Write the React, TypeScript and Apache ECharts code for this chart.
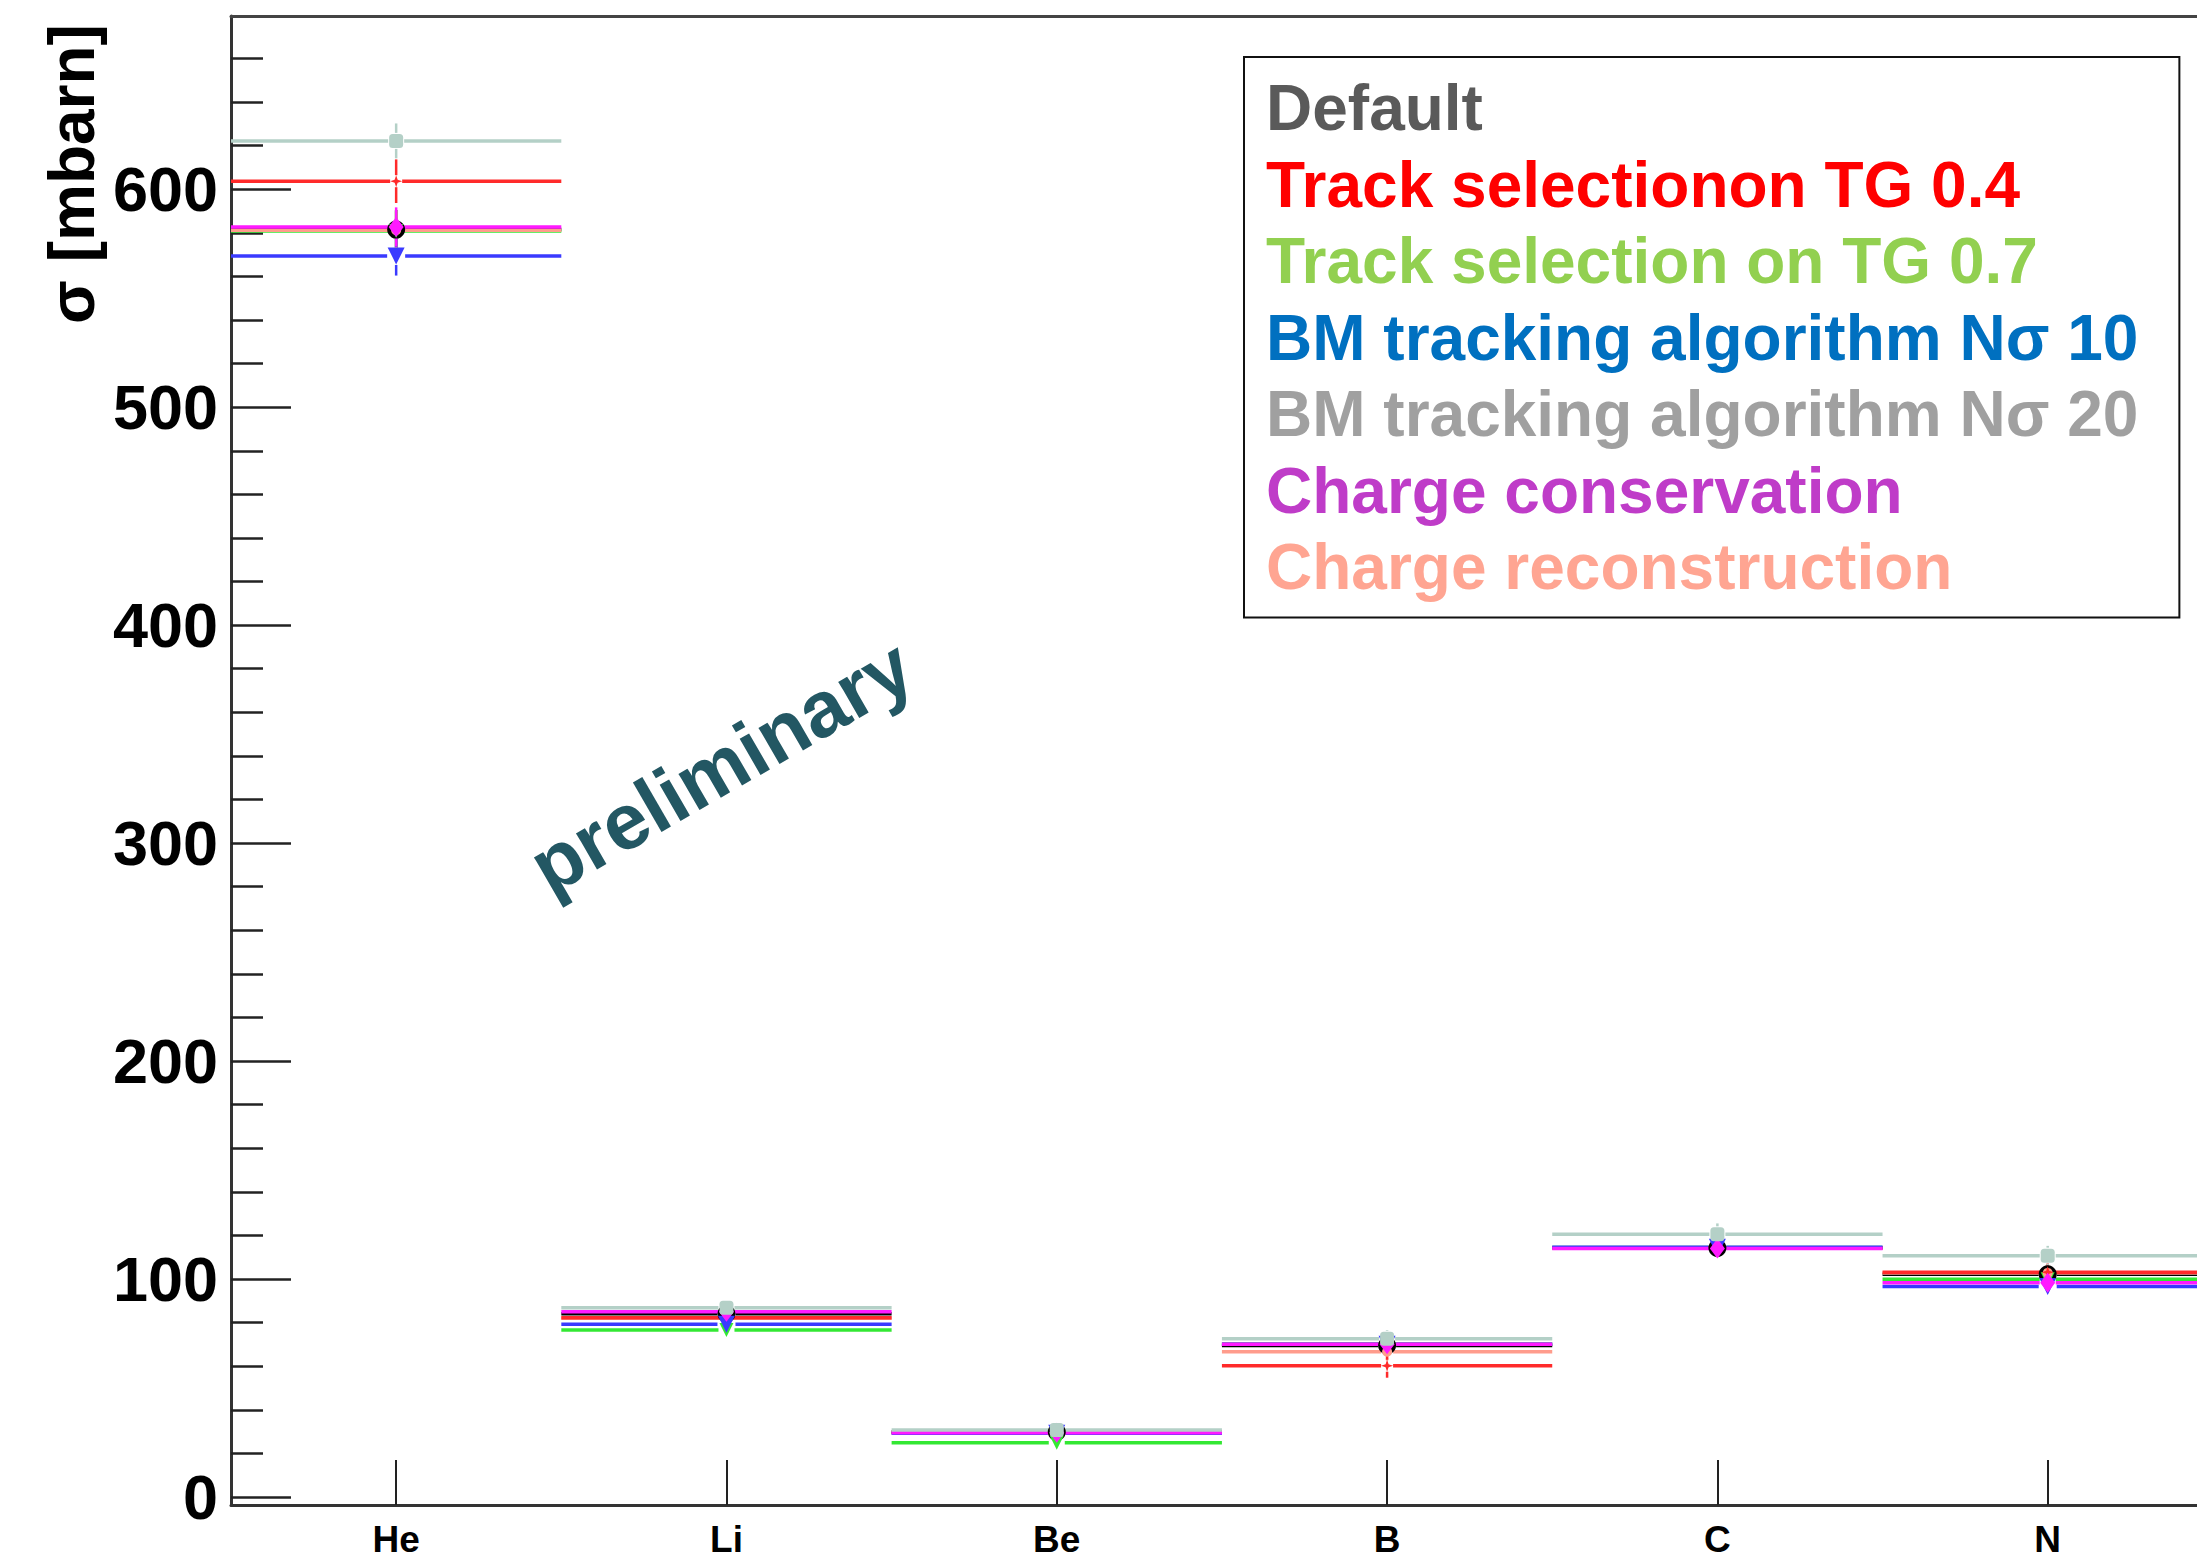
import React, { useEffect, useRef } from "react";
import * as echarts from "echarts";

// ---- data ----
const categories = ["He", "Li", "Be", "B", "C", "N"];
const yMajorTicks = [0, 100, 200, 300, 400, 500, 600];
const yMinorTicks = [
  20, 40, 60, 80, 120, 140, 160, 180, 220, 240, 260, 280, 320, 340, 360, 380,
  420, 440, 460, 480, 520, 540, 560, 580, 620, 640, 660,
];

const seriesNames = [
  "Default",
  "Track selectionon TG 0.4",
  "Track selection on TG 0.7",
  "BM tracking algorithm Nσ 10",
  "BM tracking algorithm Nσ 20",
  "Charge conservation",
  "Charge reconstruction",
];

const defaultVals = [581.5, 84.0, 29.8, 69.5, 114.2, 102.2];
const defaultErrs = [9, 3.5, 2.5, 4, 4, 4];
const tg04Vals = [603.7, 82.2, 29.6, 60.2, 114.3, 103.1];
const tg04Errs = [10, 3.5, 2.5, 5.5, 4, 4];
const tg07Vals = [580.9, 76.6, 24.9, 70.2, 114.4, 99.9];
const tg07Errs = [9, 3.5, 2.5, 4, 4, 4];
const bm10Vals = [569.4, 79.2, 29.2, 70.0, 114.6, 96.5];
const bm10Errs = [9, 3.5, 2.5, 4, 4, 4];
const bm20Vals = [622.2, 86.8, 30.7, 72.6, 120.5, 110.7];
const bm20Errs = [8, 3.5, 2.5, 4, 5, 4.5];
const chConsVals = [582.7, 85.0, 29.5, 70.0, 114.0, 98.3];
const chConsErrs = [9, 3.5, 2.5, 4, 4, 4];
const chRecoVals = [581.2, 82.0, 29.4, 66.6, 114.1, 102.8];
const chRecoErrs = [9, 3.5, 2.5, 4, 4, 4];

// ---- styles ----
const AXIS_FONT = "'Liberation Sans', Arial, Helvetica, sans-serif";
const TEXT_FONT = "'Liberation Sans', Arial, Helvetica, sans-serif";

const styleByName: Record<string, any> = {
  "Default": { line: "#000000", legend: "#5a5a5a", symbol: "circle", size: 18, rotate: 0, gap: 9 },
  "Track selectionon TG 0.4": {
    line: "#ff2a2a", legend: "#ff0000",
    symbol: "path://M0,-10L2.5,-2.5L10,0L2.5,2.5L0,10L-2.5,2.5L-10,0L-2.5,-2.5Z",
    size: 12, rotate: 0, gap: 6,
  },
  "Track selection on TG 0.7": { line: "#33e833", legend: "#92d050", symbol: "triangle", size: 14, rotate: 180, gap: 8 },
  "BM tracking algorithm Nσ 10": { line: "#3a3aff", legend: "#0070c0", symbol: "triangle", size: 17, rotate: 180, gap: 9 },
  "BM tracking algorithm Nσ 20": { line: "#b4d0c7", legend: "#a0a0a0", symbol: "roundRect", size: 14, rotate: 0, gap: 8 },
  "Charge conservation": { line: "#ff1aff", legend: "#bf3cc8", symbol: "diamond", size: [15, 20], rotate: 0, gap: 8 },
  "Charge reconstruction": { line: "#ff9c8c", legend: "#ffa592", symbol: "circle", size: 10, rotate: 0, gap: 6 },
};

const valsByName: Record<string, number[][]> = {
  "Default": [defaultVals, defaultErrs],
  "Track selectionon TG 0.4": [tg04Vals, tg04Errs],
  "Track selection on TG 0.7": [tg07Vals, tg07Errs],
  "BM tracking algorithm Nσ 10": [bm10Vals, bm10Errs],
  "BM tracking algorithm Nσ 20": [bm20Vals, bm20Errs],
  "Charge conservation": [chConsVals, chConsErrs],
  "Charge reconstruction": [chRecoVals, chRecoErrs],
};

// drawing order (last on top)
const drawOrder = [
  "Default",
  "Track selection on TG 0.7",
  "Charge reconstruction",
  "Track selectionon TG 0.4",
  "BM tracking algorithm Nσ 10",
  "Charge conservation",
  "BM tracking algorithm Nσ 20",
];

function makeRenderItem(color: string, gap: number) {
  return (params: any, api: any) => {
    const xi = api.value(0);
    const v = api.value(1);
    const e = api.value(2);
    const c = api.coord([xi, v]);
    const l = api.coord([xi - 0.5, v]);
    const r = api.coord([xi + 0.5, v]);
    const t = api.coord([xi, v + e]);
    const b = api.coord([xi, v - e]);
    const hStyle = { stroke: color, lineWidth: 3.5 };
    const vStyle = { stroke: color, lineWidth: 2.5 };
    const children: any[] = [
      { type: "line", shape: { x1: l[0], y1: c[1], x2: c[0] - gap, y2: c[1] }, style: hStyle },
      { type: "line", shape: { x1: c[0] + gap, y1: c[1], x2: r[0], y2: c[1] }, style: hStyle },
    ];
    if (t[1] < c[1] - gap) {
      children.push({ type: "line", shape: { x1: c[0], y1: t[1], x2: c[0], y2: c[1] - gap }, style: vStyle });
    }
    if (b[1] > c[1] + gap) {
      children.push({ type: "line", shape: { x1: c[0], y1: c[1] + gap, x2: c[0], y2: b[1] }, style: vStyle });
    }
    return { type: "group", children };
  };
}

export default function App() {
  const ref = useRef<HTMLDivElement>(null);

  useEffect(() => {
    if (!ref.current) return;
    const chart = echarts.init(ref.current, null, { renderer: "svg" });

    const series: any[] = [];
    drawOrder.forEach((name) => {
      const st = styleByName[name];
      const [vals, errs] = valsByName[name];
      series.push({
        name,
        type: "custom",
        xAxisIndex: 0,
        yAxisIndex: 0,
        clip: true,
        renderItem: makeRenderItem(st.line, st.gap),
        encode: { x: 0, y: 1 },
        itemStyle: { color: st.line },
        data: vals.map((v, i) => [i + 0.5, v, errs[i]]),
      });
      series.push({
        name,
        type: "scatter",
        xAxisIndex: 0,
        yAxisIndex: 0,
        symbol: st.symbol,
        symbolSize: st.size,
        symbolRotate: st.rotate,
        itemStyle: { color: st.line, opacity: 1 },
        emphasis: { disabled: true },
        data: vals.map((v, i) => [i + 0.5, v]),
      });
    });

    const xMin = 0;
    const xMax = 5.952;
    const yMin = -3.7;
    const yMax = 679.5;

    chart.setOption({
      animation: false,
      backgroundColor: "#ffffff",
      grid: { left: 231, top: 16, right: 0, bottom: 56, containLabel: false },
      xAxis: [
        {
          type: "value",
          min: xMin,
          max: xMax,
          position: "bottom",
          axisLine: { show: true, onZero: false, lineStyle: { color: "#333", width: 3 } },
          axisTick: {
            show: true,
            inside: true,
            length: 45,
            customValues: categories.map((_, i) => i + 0.5),
            lineStyle: { color: "#222", width: 2 },
          },
          axisLabel: {
            show: true,
            customValues: categories.map((_, i) => i + 0.5),
            formatter: (v: number) => categories[Math.round(v - 0.5)] ?? "",
            color: "#000",
            fontFamily: AXIS_FONT,
            fontWeight: "bold",
            fontSize: 37,
            lineHeight: 40,
            margin: 14,
          },
          splitLine: { show: false },
        },
        {
          type: "value",
          min: xMin,
          max: xMax,
          position: "top",
          axisLine: { show: true, onZero: false, lineStyle: { color: "#444", width: 3 } },
          axisTick: { show: false },
          axisLabel: { show: false },
          splitLine: { show: false },
        },
      ],
      yAxis: [
        {
          type: "value",
          min: yMin,
          max: yMax,
          position: "left",
          axisLine: { show: true, onZero: false, lineStyle: { color: "#333", width: 3 } },
          axisTick: {
            show: true,
            inside: true,
            length: 60,
            customValues: yMajorTicks,
            lineStyle: { color: "#222", width: 2.5 },
          },
          axisLabel: {
            show: true,
            customValues: yMajorTicks,
            color: "#000",
            fontFamily: AXIS_FONT,
            fontWeight: "bold",
            fontSize: 63,
            margin: 13,
          },
          splitLine: { show: false },
        },
        {
          type: "value",
          min: yMin,
          max: yMax,
          position: "left",
          axisLine: { show: false, onZero: false },
          axisTick: {
            show: true,
            inside: true,
            length: 32,
            customValues: yMinorTicks,
            lineStyle: { color: "#222", width: 2.5 },
          },
          axisLabel: { show: false },
          splitLine: { show: false },
        },
      ],
      legend: {
        orient: "vertical",
        left: 1244,
        top: 57,
        itemWidth: 0,
        itemHeight: 0,
        itemGap: 0,
        padding: [13, 41, 12, 17],
        borderColor: "#111",
        borderWidth: 2,
        backgroundColor: "#ffffff",
        selectedMode: false,
        textStyle: {
          fontFamily: TEXT_FONT,
          fontWeight: "bold",
          fontSize: 64,
          lineHeight: 76.5,
        },
        data: seriesNames.map((n) => ({
          name: n,
          icon: "none",
          textStyle: { color: styleByName[n].legend },
        })),
      },
      graphic: [
        {
          type: "text",
          x: 72,
          y: 174,
          rotation: Math.PI / 2,
          style: {
            text: "σ [mbarn]",
            fill: "#000",
            font: `bold 64px ${TEXT_FONT}`,
            align: "center",
            verticalAlign: "middle",
          },
        },
        {
          type: "text",
          x: 721,
          y: 766,
          rotation: (30 * Math.PI) / 180,
          style: {
            text: "preliminary",
            fill: "#235763",
            font: `bold 79px ${TEXT_FONT}`,
            align: "center",
            verticalAlign: "middle",
          },
        },
      ],
      series,
    });

    return () => chart.dispose();
  }, []);

  return (
    <div
      ref={ref}
      style={{ position: "absolute", left: 0, top: 0, width: 2197, height: 1561, overflow: "hidden" }}
    />
  );
}
